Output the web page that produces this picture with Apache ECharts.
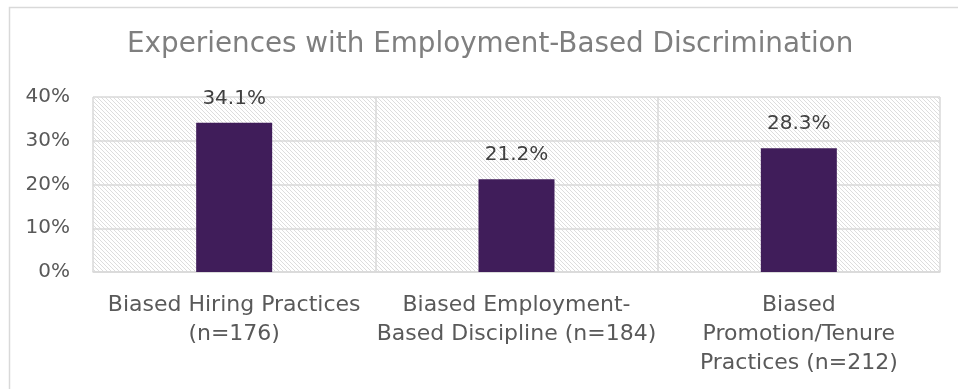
<!DOCTYPE html>
<html><head><meta charset="utf-8">
<script src="https://cdn.jsdelivr.net/npm/echarts@6/dist/echarts.min.js"></script>
<style>html,body{margin:0;padding:0;background:#fff}#c{width:958px;height:389px}</style>
</head><body><div id="c"></div>
<script>
const categories = ["Biased Hiring Practices\n(n=176)", "Biased Employment-\nBased Discipline (n=184)", "Biased\nPromotion/Tenure\nPractices (n=212)"];
const values = [34.1, 21.2, 28.3];
const titleText = "Experiences with Employment-Based Discrimination";

const pc = document.createElement('canvas');
pc.width = 4; pc.height = 4;
const g = pc.getContext('2d');
g.fillStyle = '#ffffff'; g.fillRect(0,0,4,4);
g.strokeStyle = '#d4d4d4'; g.lineWidth = 0.8;
g.beginPath();
g.moveTo(0,0); g.lineTo(4,4);
g.moveTo(-2,2); g.lineTo(2,6);
g.moveTo(2,-2); g.lineTo(6,2);
g.stroke();

const font = '"DejaVu Sans", sans-serif';
const chart = echarts.init(document.getElementById('c'), null, {renderer:'canvas'});
chart.setOption({
  animation: false,
  backgroundColor: '#fff',
  title: {text: titleText, left: 127, top: 31, padding: 0,
    textStyle: {fontFamily: font, fontWeight: 'normal', fontSize: 27.8, color: '#7f7f7f'}},
  graphic: [{type:'rect', shape:{x:9.5,y:7.5,width:1200,height:1200}, style:{fill:'none', stroke:'#d9d9d9', lineWidth:1.5}, silent:true, z:-1}],
  grid: {left: 93, right: 18, top: 97, bottom: 117, show: true, borderWidth: 0,
    backgroundColor: {image: pc, repeat: 'repeat'}},
  xAxis: {type: 'category', data: categories,
    axisLine: {show: true, lineStyle: {color: '#d9d9d9', width: 1.5}},
    axisTick: {show: false},
    splitLine: {show: true, lineStyle: {color: '#d9d9d9', width: 1.5}},
    axisLabel: {fontFamily: font, fontSize: 22, color: '#595959', margin: 19, lineHeight: 29, interval: 0}},
  yAxis: {type: 'value', min: 0, max: 40, interval: 10,
    axisLine: {show: false}, axisTick: {show: false},
    splitLine: {lineStyle: {color: '#d9d9d9', width: 1.5}},
    axisLabel: {formatter: '{value}%', fontFamily: font, fontSize: 20, color: '#595959', margin: 23}},
  series: [{type: 'bar', data: values, barWidth: 76, itemStyle: {color: '#401d5a'},
    label: {show: true, position: 'top', distance: 14, formatter: p => p.value.toFixed(1) + '%',
      fontFamily: font, fontSize: 20, color: '#404040'}}]
});
</script></body></html>
